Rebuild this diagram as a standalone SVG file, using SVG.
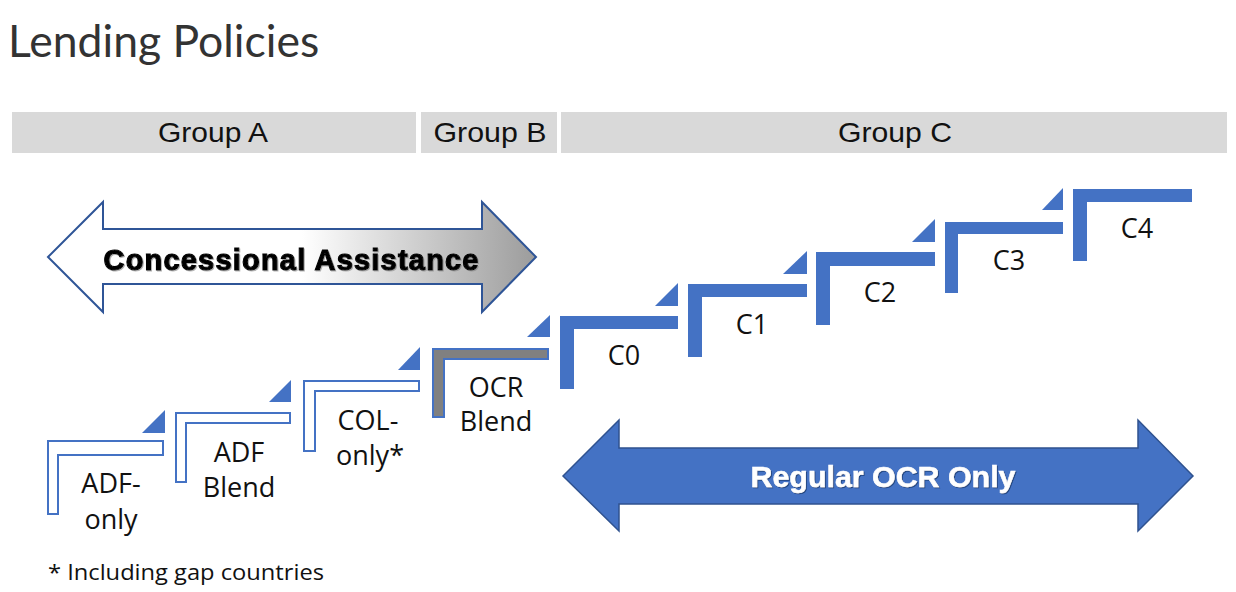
<svg xmlns="http://www.w3.org/2000/svg" width="1236" height="592" viewBox="0 0 1236 592">
<defs>
<linearGradient id="gradCA" x1="48" y1="0" x2="536" y2="0" gradientUnits="userSpaceOnUse">
<stop offset="0" stop-color="#FFFFFF"/>
<stop offset="0.52" stop-color="#FFFFFF"/>
<stop offset="1" stop-color="#9C9C9C"/>
</linearGradient>
<filter id="shadow" x="-5%" y="-20%" width="110%" height="140%">
<feDropShadow dx="1" dy="1" stdDeviation="0.6" flood-color="#1F3A6E" flood-opacity="0.8"/>
</filter>
<filter id="shadowG" x="-5%" y="-20%" width="110%" height="140%">
<feDropShadow dx="1" dy="1" stdDeviation="0.6" flood-color="#808080" flood-opacity="0.6"/>
</filter>
</defs>
<style>
.title{font-family:Lato,"Open Sans",sans-serif;font-size:44.5px;fill:#333333}
.grp{fill:#D9D9D9}
.grpt{font-family:"Liberation Sans",Arial,sans-serif;font-size:28px;fill:#111111;text-anchor:middle}
.lbl{font-family:"Open Sans","Noto Sans",sans-serif;font-size:27px;fill:#111111;text-anchor:middle}
.outl{fill:#FFFFFF;stroke:#4472C4;stroke-width:2}
.gray{fill:#808080;stroke:#4472C4;stroke-width:2}
.solid{fill:#4472C4}
.tri{fill:#4472C4}
.foot{font-family:"Open Sans","Noto Sans",sans-serif;font-size:22px;fill:#111111}
</style>
<rect width="1236" height="592" fill="#FFFFFF"/>
<text class="title" x="8" y="57">Lending Policies</text>

<g id="group-a"><rect class="grp" x="12" y="112" width="404" height="41"/><text class="grpt" x="213" y="142" textLength="110" lengthAdjust="spacingAndGlyphs">Group A</text></g>
<g id="group-b"><rect class="grp" x="421" y="112" width="136" height="41"/><text class="grpt" x="490" y="142" textLength="113" lengthAdjust="spacingAndGlyphs">Group B</text></g>
<g id="group-c"><rect class="grp" x="561" y="112" width="666" height="41"/><text class="grpt" x="895" y="142" textLength="114" lengthAdjust="spacingAndGlyphs">Group C</text></g>

<g id="concessional-assistance">
<path d="M48,257 L103,202 L103,229 L482,229 L482,202 L536,257 L482,312 L482,284 L103,284 L103,312 Z" fill="url(#gradCA)" stroke="#2F5597" stroke-width="2" stroke-linejoin="miter"/>
<text x="291" y="270" font-family="'Liberation Sans',Arial,sans-serif" font-size="29" font-weight="bold" fill="#000000" stroke="#000000" stroke-width="1.1" text-anchor="middle" textLength="375" lengthAdjust="spacing" filter="url(#shadowG)">Concessional Assistance</text>
</g>

<g id="regular-ocr-only">
<path d="M563,476 L619,420 L619,448 L1138,448 L1138,420 L1193,476 L1138,531 L1138,504 L619,504 L619,531 Z" fill="#4472C4" stroke="#2F528F" stroke-width="1.5"/>
<text x="883" y="487" font-family="'Liberation Sans',Arial,sans-serif" font-size="29" font-weight="bold" fill="#FFFFFF" stroke="#FFFFFF" stroke-width="0.5" text-anchor="middle" textLength="265" lengthAdjust="spacingAndGlyphs" filter="url(#shadow)">Regular OCR Only</text>
</g>

<g id="step-adf-only">
<path class="outl" d="M48,441 H163 V455 H58 V514 H48 Z"/>
<polygon class="tri" points="142,433 165,433 165,410"/>
<text class="lbl" x="111" y="493">ADF-</text>
<text class="lbl" x="111" y="529">only</text>
</g>
<g id="step-adf-blend">
<path class="outl" d="M176,413 H290 V423 H186 V482 H176 Z"/>
<polygon class="tri" points="269,402 291,402 291,380"/>
<text class="lbl" x="239" y="462">ADF</text>
<text class="lbl" x="239" y="497">Blend</text>
</g>
<g id="step-col-only">
<path class="outl" d="M304,381 H419 V391 H315 V451 H304 Z"/>
<polygon class="tri" points="398,370 420,370 420,347"/>
<text class="lbl" x="368" y="430">COL-</text>
<text class="lbl" x="370" y="465">only*</text>
</g>
<g id="step-ocr-blend">
<path class="gray" d="M433,349 H548 V359 H444 V417 H433 Z"/>
<polygon class="tri" points="527,337 550,337 550,315"/>
<text class="lbl" x="496" y="397">OCR</text>
<text class="lbl" x="496" y="431">Blend</text>
</g>
<g id="step-c0">
<path class="solid" d="M560,316 H678 V329 H574 V389 H560 Z"/>
<polygon class="tri" points="655,306 678,306 678,283"/>
<text class="lbl" x="624" y="365">C0</text>
</g>
<g id="step-c1">
<path class="solid" d="M688,284 H807 V297 H702 V357 H688 Z"/>
<polygon class="tri" points="783,274 807,274 807,251"/>
<text class="lbl" x="752" y="334">C1</text>
</g>
<g id="step-c2">
<path class="solid" d="M816,252 H935 V266 H830 V325 H816 Z"/>
<polygon class="tri" points="912,242 935,242 935,219"/>
<text class="lbl" x="880" y="302">C2</text>
</g>
<g id="step-c3">
<path class="solid" d="M945,222 H1063 V234 H958 V293 H945 Z"/>
<polygon class="tri" points="1042,210 1063,210 1063,188"/>
<text class="lbl" x="1009" y="270">C3</text>
</g>
<g id="step-c4">
<path class="solid" d="M1073,189 H1192 V202 H1087 V261 H1073 Z"/>
<text class="lbl" x="1137" y="238">C4</text>
</g>

<g id="connectors"/>

<text class="foot" x="48" y="580" textLength="276" lengthAdjust="spacingAndGlyphs">* Including gap countries</text>
</svg>
